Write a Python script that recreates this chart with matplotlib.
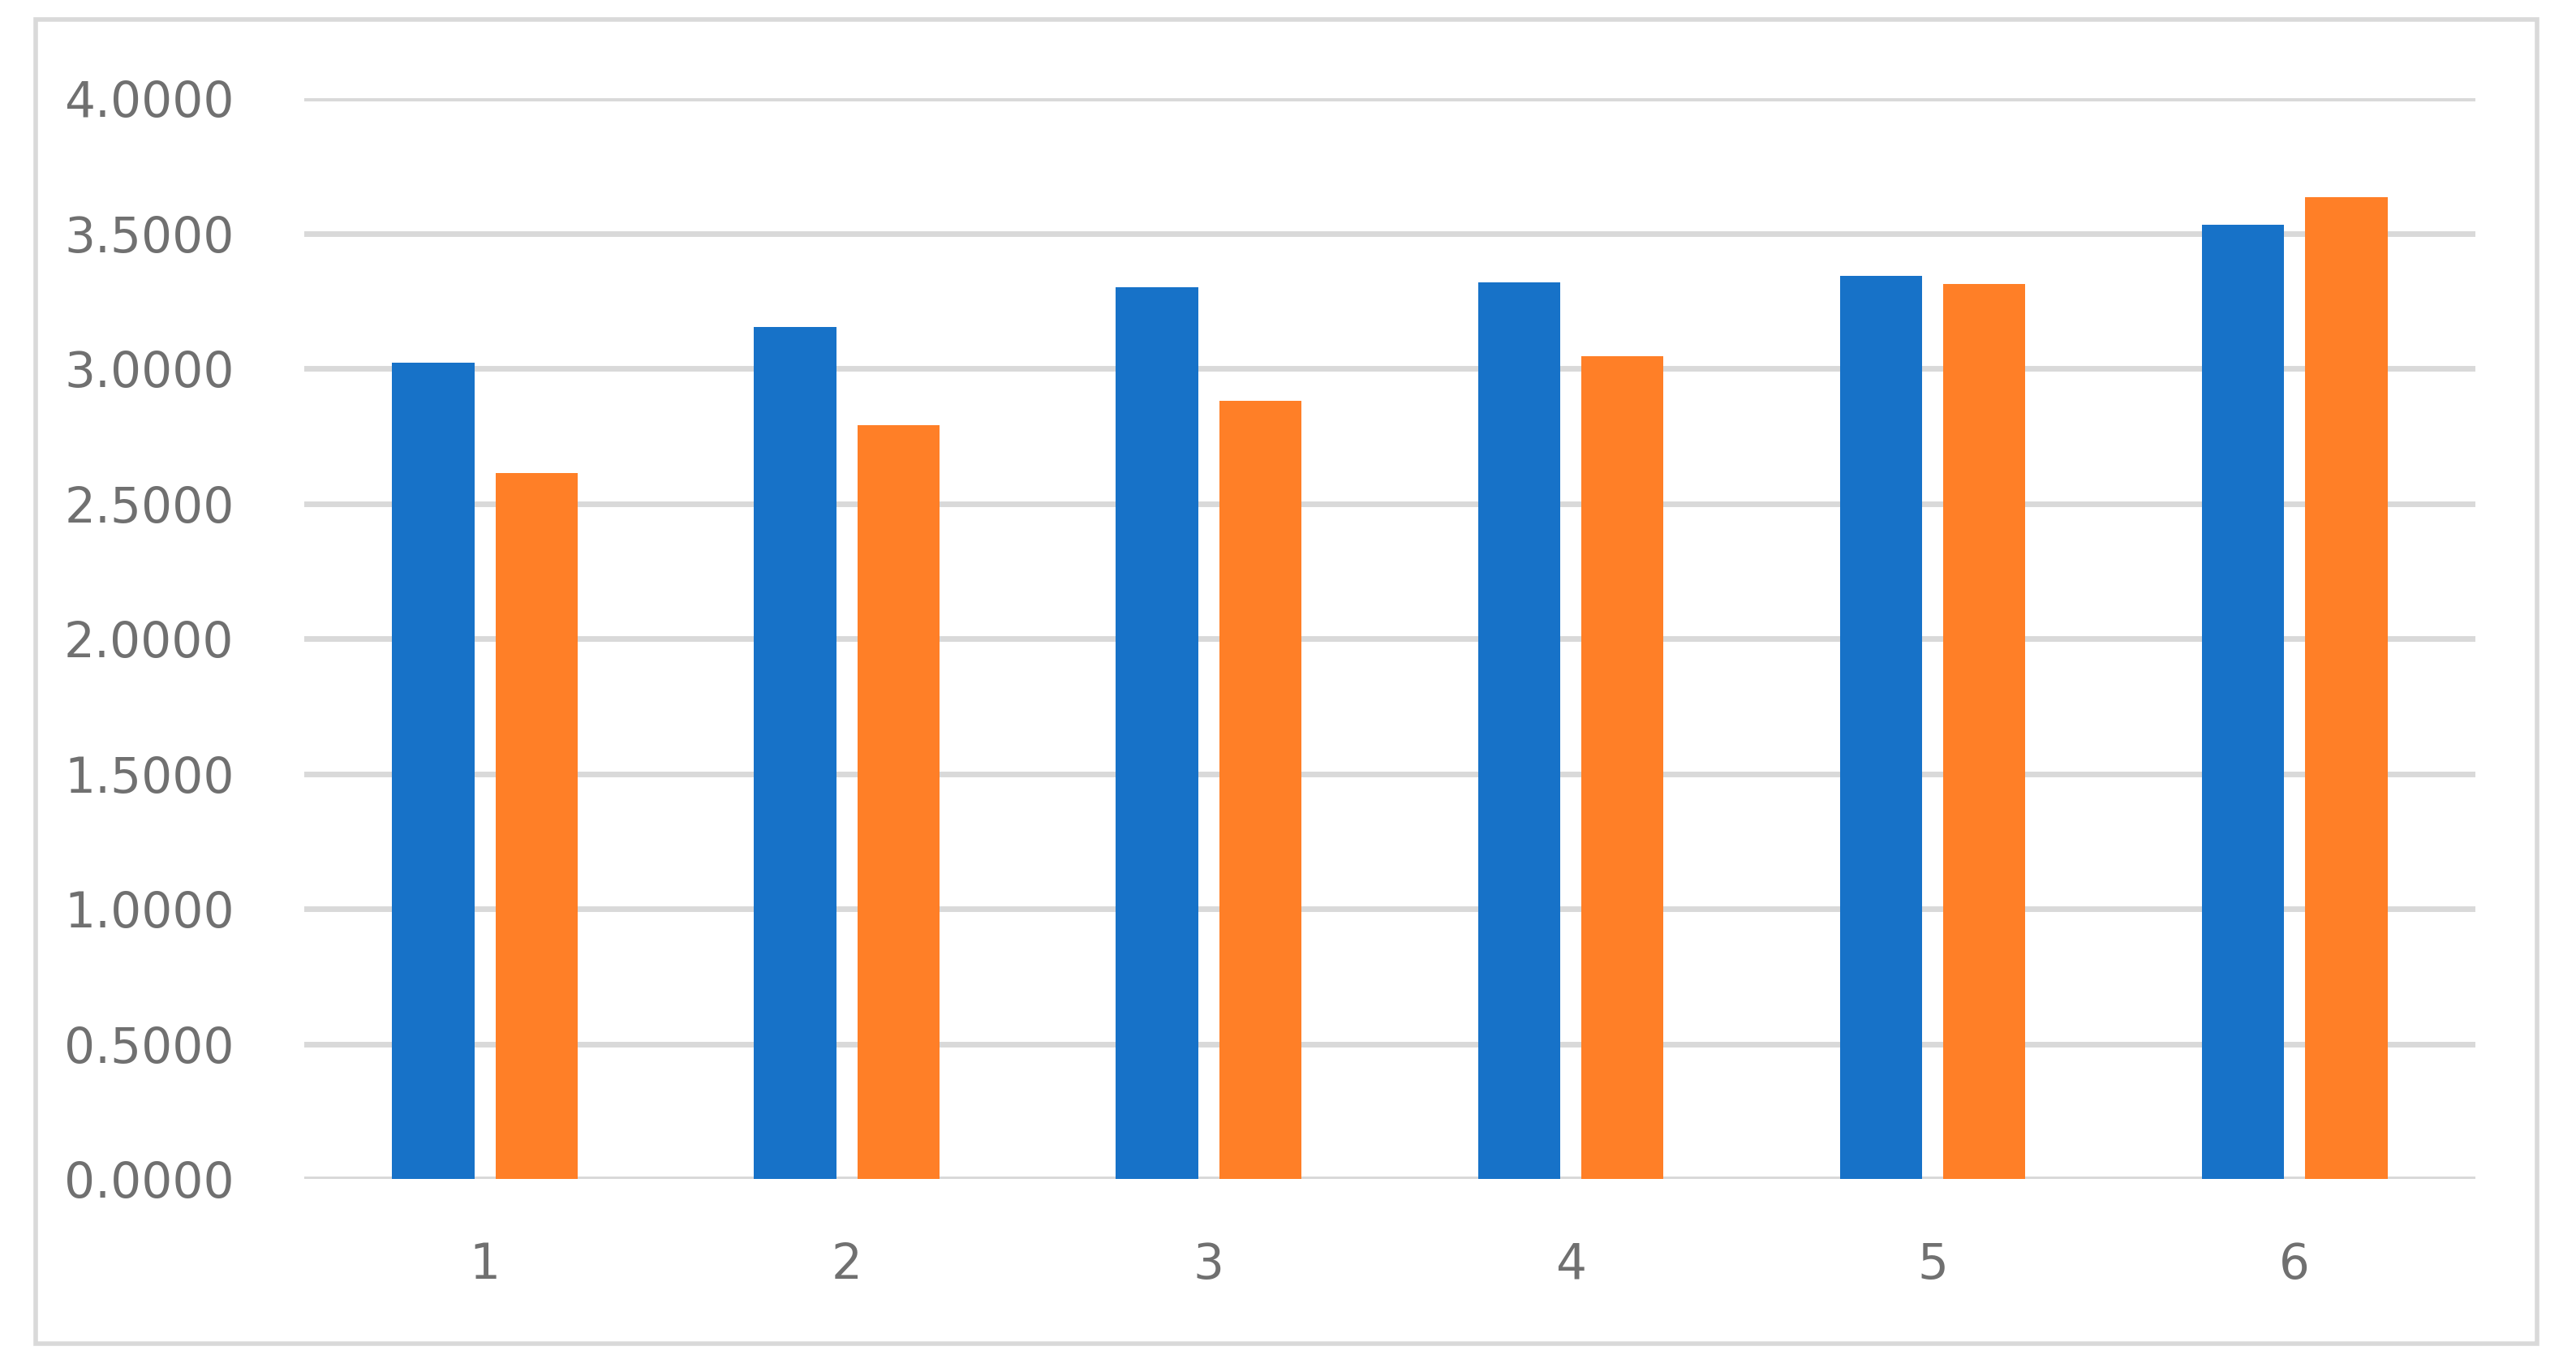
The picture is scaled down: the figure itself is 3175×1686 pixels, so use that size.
import numpy as np
import matplotlib.pyplot as plt
from matplotlib.patches import Rectangle

categories = ['1', '2', '3', '4', '5', '6']
series_blue = [3.021, 3.155, 3.300, 3.319, 3.343, 3.532]
series_orange = [2.614, 2.790, 2.881, 3.046, 3.313, 3.635]
yticks = [0.0, 0.5, 1.0, 1.5, 2.0, 2.5, 3.0, 3.5, 4.0]

fig = plt.figure(figsize=(31.75, 16.86), dpi=100)
ax = fig.add_axes([0.118, 0.138, 0.843, 0.79])

# outer border like the spreadsheet chart frame
fig.patches.append(Rectangle((0.014, 0.018), 0.971, 0.968, transform=fig.transFigure,
                             fill=False, edgecolor='#d9d9d9', linewidth=4))

x = np.arange(len(categories))
w = 0.227
ax.bar(x - 0.143, series_blue, width=w, color='#1772C8', zorder=3)
ax.bar(x + 0.143, series_orange, width=w, color='#FF7F27', zorder=3)

ax.set_xlim(-0.5, len(categories) - 0.5)
ax.set_ylim(0, 4.0)
ax.set_yticks(yticks)
ax.set_yticklabels(['{:.4f}'.format(v) for v in yticks])
ax.set_xticks(x)
ax.set_xticklabels(categories)
ax.grid(axis='y', color='#d9d9d9', linewidth=5, zorder=0)
for s in ['top', 'right', 'left', 'bottom']:
    ax.spines[s].set_visible(False)
ax.axhline(0, color='#d9d9d9', linewidth=5, zorder=2)
ax.tick_params(length=0, labelsize=43, labelcolor='#707070')
ax.tick_params(axis='y', pad=62)
ax.tick_params(axis='x', pad=55)

fig.savefig('out.png', dpi=100)
